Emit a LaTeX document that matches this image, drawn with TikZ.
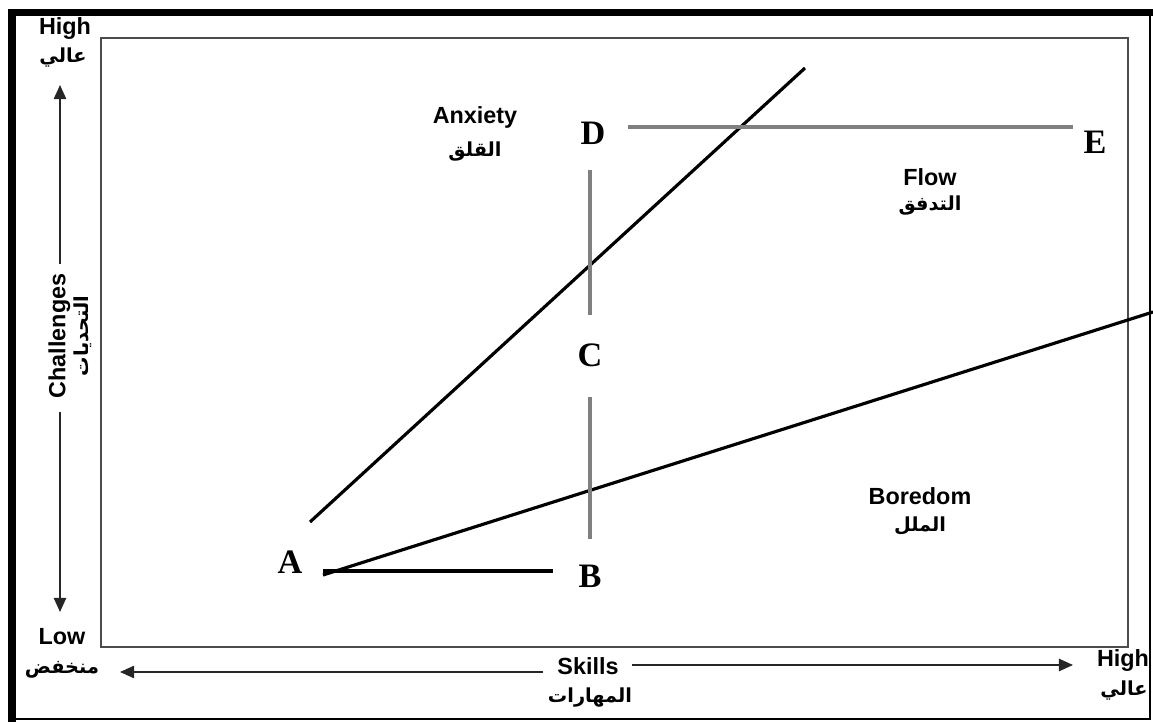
\documentclass[tikz,border=0pt]{standalone}
\usepackage{fontspec}
\setmainfont{Liberation Sans}
\newfontfamily\lettfont{Liberation Serif}
\newfontfamily\arabicfont[Script=Arabic]{DejaVu Sans}
\TeXXeTstate=1
\usetikzlibrary{arrows.meta}
\begin{document}
\begin{tikzpicture}[x=0.02cm,y=-0.02cm,
  lbl/.style={font=\fontsize{13.3}{15}\selectfont\bfseries, inner sep=0pt},
  arlbl/.style={font=\arabicfont\fontsize{11}{13}\selectfont\bfseries, inner sep=0pt},
  letter/.style={font=\lettfont\fontsize{19.5}{21}\selectfont\bfseries, inner sep=0pt},
  mainline/.style={line width=1.8pt, black},
  grayline/.style={line width=1.8pt, gray},
  axisarrow/.style={line width=0.9pt, black!85, -{Triangle[length=8pt,width=7pt]}},
  frame/.style={black}
]
\useasboundingbox (0,0) rectangle (1153,722);
% outer frame
\draw[frame, line width=4.5pt] (12,722) -- (12,12.5) -- (1153,12.5);
\draw[frame, line width=1.2pt] (1150,12) -- (1150,719) -- (12,719);
% inner box
\draw[black!70, line width=1.1pt] (101,38) rectangle (1128,647);

% letters
\node[letter] (A) at (290,562) {A};
\node[letter] (B) at (590,576) {B};
\node[letter] (C) at (590,355) {C};
\node[letter] (D) at (593,133) {D};
\node[letter] (E) at (1095,142) {E};

% line end coordinates
\coordinate (anxS) at (310,522);
\coordinate (anxE) at (805,68);
\coordinate (borS) at (323,575);
\coordinate (borE) at (1153,312);
\coordinate (abS) at (323,571);
\coordinate (abE) at (553,571);
\coordinate (bcS) at (590,539);
\coordinate (bcE) at (590,397);
\coordinate (cdS) at (590,315);
\coordinate (cdE) at (590,170);
\coordinate (deS) at (628,127);
\coordinate (deE) at (1073,127);

\draw[mainline] (anxS) -- (anxE);
\draw[mainline] (borS) -- (borE);
\draw[mainline] (abS) -- (abE);
\draw[grayline] (bcS) -- (bcE);
\draw[grayline] (cdS) -- (cdE);
\draw[grayline] (deS) -- (deE);

% region labels
\node[lbl] (anx) at (475,117) {Anxiety};
\node[arlbl] (anxar) at (475,152) {\beginR القلق\endR};
\node[lbl] (flow) at (930,177) {Flow};
\node[arlbl] (flowar) at (930,206) {\beginR التدفق\endR};
\node[lbl] (bor) at (920,496) {Boredom};
\node[arlbl] (borar) at (920,526) {\beginR الملل\endR};

% vertical axis
\node[lbl] (hiY) at (65,29) {High};
\node[arlbl] (hiYar) at (63,58) {\beginR عالي\endR};
\node[lbl] (loY) at (62,637) {Low};
\node[arlbl] (loYar) at (62,670) {\beginR منخفض\endR};
\node[rotate=90, inner sep=0pt, align=center] (chal) at (70,336)
  {{\fontsize{13.3}{15}\selectfont\bfseries Challenges}\\[1pt]{\arabicfont\fontsize{11}{13}\selectfont\bfseries\beginR التحديات\endR}};
\coordinate (yTopS) at (60,264);
\coordinate (yTopE) at (60,85);
\coordinate (yBotS) at (60,412);
\coordinate (yBotE) at (60,612);
\draw[axisarrow] (yTopS) -- (yTopE);
\draw[axisarrow] (yBotS) -- (yBotE);

% horizontal axis
\node[lbl] (skills) at (588,666) {Skills};
\node[arlbl] (skillsar) at (590,698) {\beginR المهارات\endR};
\node[lbl] (hiX) at (1123,661) {High};
\node[arlbl] (hiXar) at (1124,691) {\beginR عالي\endR};
\coordinate (xLS) at (543,672);
\coordinate (xLE) at (120,672);
\coordinate (xRS) at (632,665);
\coordinate (xRE) at (1073,665);
\draw[axisarrow] (xLS) -- (xLE);
\draw[axisarrow] (xRS) -- (xRE);
\end{tikzpicture}
\end{document}
